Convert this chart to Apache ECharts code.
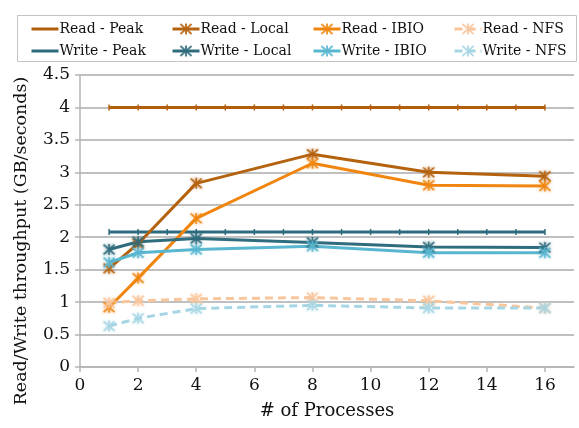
<!DOCTYPE html>
<html>
<head>
<meta charset="utf-8">
<script src="https://cdn.jsdelivr.net/npm/echarts@6/dist/echarts.min.js"></script>
<style>
  html, body { margin: 0; padding: 0; background: #fff; }
  #chart { width: 579px; height: 428px; }
</style>
</head>
<body>
<div id="chart"></div>
<script>
// Process counts measured and the throughput (GB/s) for each configuration
const processes = [1, 2, 4, 8, 12, 16];
const peakProcesses = [1, 2, 3, 4, 5, 6, 7, 8, 9, 10, 11, 12, 13, 14, 15, 16];
const readPeak = 4.0;
const writePeak = 2.08;
const readLocal = [1.52, 1.90, 2.83, 3.28, 3.00, 2.94];
const readIBIO  = [0.92, 1.37, 2.29, 3.14, 2.80, 2.79];
const readNFS   = [0.99, 1.02, 1.05, 1.07, 1.02, 0.91];
const writeLocal = [1.81, 1.93, 1.98, 1.92, 1.85, 1.84];
const writeIBIO  = [1.61, 1.76, 1.81, 1.86, 1.76, 1.76];
const writeNFS   = [0.63, 0.75, 0.90, 0.95, 0.91, 0.91];
const xTicks = [0, 2, 4, 6, 8, 10, 12, 14, 16];
const yTicks = [0, 0.5, 1, 1.5, 2, 2.5, 3, 3.5, 4, 4.5];

const FONT = 'DejaVu Serif';
const STAR = 'path://M5,0L5,10M0.6,0.6L9.4,9.4M0.6,9.4L9.4,0.6';

function pairs(xs, ys) { return xs.map((x, i) => [x, ys[i]]); }

function measured(name, color, values, dashed) {
  return {
    name: name, type: 'line', data: pairs(processes, values),
    symbol: STAR, symbolSize: 11, showSymbol: true,
    lineStyle: { color: color, width: 3, type: dashed ? [8, 5] : 'solid' },
    itemStyle: { color: color, borderColor: color, borderWidth: 1.6, opacity: 0.85,
                 shadowBlur: 3, shadowColor: color },
    z: 3
  };
}

function peak(name, color, value) {
  return [{
    name: name, type: 'line', data: peakProcesses.map(x => [x, value]),
    symbol: 'rect', symbolSize: [1.5, 6], showSymbol: true,
    lineStyle: { color: color, width: 3 }, itemStyle: { color: color }, z: 2
  }];
}

const C = {
  readPeak: '#B25F0C', readLocal: '#B5620F', readIBIO: '#F08610', readNFS: '#F9C69C',
  writePeak: '#2D6B7E', writeLocal: '#2F6C7D', writeIBIO: '#58B6D0', writeNFS: '#A6D6E4'
};

const series = [].concat(
  peak('Read - Peak', C.readPeak, readPeak),
  peak('Write - Peak', C.writePeak, writePeak),
  [
    measured('Read - Local', C.readLocal, readLocal),
    measured('Read - IBIO', C.readIBIO, readIBIO),
    measured('Read - NFS', C.readNFS, readNFS, true),
    measured('Write - Local', C.writeLocal, writeLocal),
    measured('Write - IBIO', C.writeIBIO, writeIBIO),
    measured('Write - NFS', C.writeNFS, writeNFS, true)
  ]
);

// Peak entries show only their line in the legend
const legendColumns = [
  [{ name: 'Read - Peak', itemStyle: { opacity: 0 } }, { name: 'Write - Peak', itemStyle: { opacity: 0 } }],
  ['Read - Local', 'Write - Local'],
  ['Read - IBIO', 'Write - IBIO'],
  ['Read - NFS', 'Write - NFS']
];
const legendLeft = [25, 166, 307, 448];

const chart = echarts.init(document.getElementById('chart'), null, { renderer: 'canvas' });
chart.setOption({
  animation: false,
  backgroundColor: '#ffffff',
  textStyle: { fontFamily: FONT },
  graphic: [{
    type: 'rect', left: 15, top: 13, shape: { width: 559, height: 46 },
    style: { fill: 'none', stroke: '#c4c4c4', lineWidth: 1 }, z: 0
  }],
  legend: legendColumns.map((col, i) => ({
    data: col, orient: 'vertical', left: legendLeft[i], top: 17, itemGap: 8,
    itemWidth: 27, itemHeight: 14, selectedMode: false,
    lineStyle: { width: 3 },
    textStyle: { fontFamily: FONT, fontSize: 14, color: '#111', padding: [0, 0, 0, -4] }
  })),
  grid: { left: 80, right: 5, top: 75, bottom: 61, containLabel: false },
  xAxis: {
    type: 'value', min: 0, max: 17, interval: 2,
    name: '# of Processes', nameLocation: 'middle', nameGap: 35,
    nameTextStyle: { fontFamily: FONT, fontSize: 18, color: '#111' },
    axisLine: { lineStyle: { color: '#b5b5b5', width: 1.5 } },
    axisTick: { show: true, length: 5, lineStyle: { color: '#b5b5b5', width: 1.5 } },
    axisLabel: {
      fontFamily: FONT, fontSize: 17, color: '#111', margin: 10, showMaxLabel: false,
      formatter: v => (xTicks.indexOf(v) >= 0 ? String(v) : '')
    },
    splitLine: { show: false }
  },
  yAxis: {
    type: 'value', min: 0, max: 4.5, interval: 0.5,
    name: 'Read/Write throughput (GB/seconds)', nameLocation: 'middle', nameGap: 50,
    nameTextStyle: { fontFamily: FONT, fontSize: 17.5, color: '#111', padding: [0, 40, 0, 0] },
    axisLine: { show: true, lineStyle: { color: '#b5b5b5', width: 1.5 } },
    axisTick: { show: true, length: 5, lineStyle: { color: '#b5b5b5', width: 1.5 } },
    axisLabel: {
      fontFamily: FONT, fontSize: 17, color: '#111', margin: 10,
      formatter: v => (yTicks.indexOf(v) >= 0 ? String(v) : '')
    },
    splitLine: { show: true, lineStyle: { color: '#ababab', width: 1.5 } }
  },
  series: series
});
</script>
</body>
</html>
